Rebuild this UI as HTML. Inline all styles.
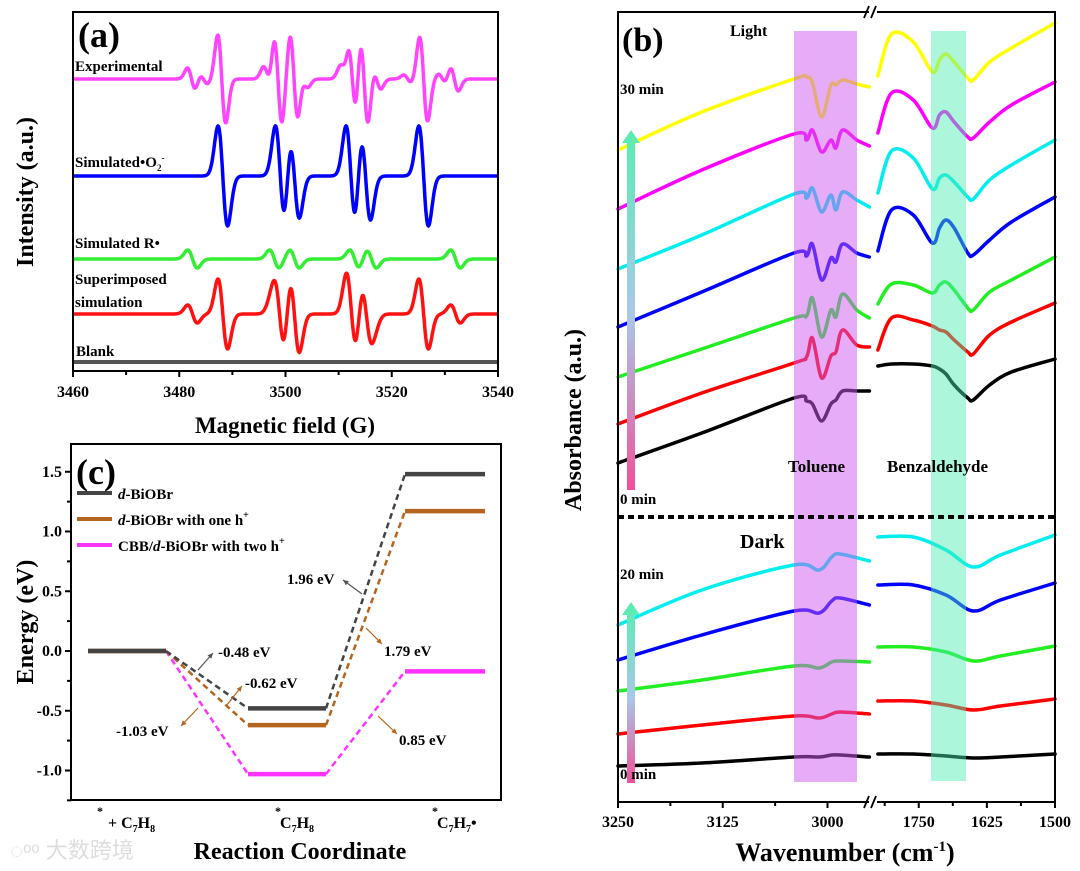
<!DOCTYPE html>
<html><head><meta charset="utf-8"><style>
html,body{margin:0;padding:0;background:#fff}
svg{display:block;font-family:"Liberation Serif",serif;font-weight:bold}
</style></head><body>
<svg id="fig" width="1080" height="871" viewBox="0 0 1080 871" xmlns="http://www.w3.org/2000/svg">
<g id="pa"></g>
<g id="pc"></g>
<g id="pb"></g>
<text x="10" y="858" font-family="'Liberation Sans','Noto Sans CJK SC',sans-serif" font-size="22" fill="#ddd" font-weight="normal">◌ᵒᵒ 大数跨境</text>
</svg>
<script>
// ===== Panel (a) data =====
const aTicks=[3460,3480,3500,3520,3540];
const o2Centers=[3488.2,3499.0,3501.7,3512.3,3515.1,3526.0];
const o2Amps=[50,50,42,50,44,50];
const rCenters=[3482.5,3497.9,3501.7,3513.0,3516.2,3532.0];
const rAmps=[9,9,9,9,9,9];
const expCenters=[3482.3,3484.6,3488.0,3496.6,3498.6,3501.6,3503.5,3511.0,3512.6,3514.8,3517.2,3523.0,3526.0,3529.5,3531.8];
const expAmps=[11,5,44,12,45,44,8,12,40,46,10,4,42,5,12];
const superO2Weight=0.7, superRWeight=1.0;
// ===== Panel (c) data =====
const cTicks=[-1.0,-0.5,0.0,0.5,1.0,1.5];
const seriesNames=["d-BiOBr","d-BiOBr with one h+","CBB/d-BiOBr with two h+"];
const levelsBlack=[0,-0.48,1.48];
const levelsBrown=[0,-0.62,1.17];
const levelsPink=[0,-1.03,-0.17];
// ===== Panel (b) data =====
const bTicksL=[3250,3125,3000];
const bTicksR=[1750,1625,1500];
const wL=[3250,3150,3040,3025,3018,3007,2996,2990,2982,2965,2950];
const wR=[1825,1800,1760,1725,1712,1700,1685,1660,1650,1620,1580,1500];
const lightLeft=[
 [463,433,398,401,404,421,404,400,391,391,391],
 [424,393,363,357,338,378,356,352,330,345,347],
 [377,349,318,316,298,337,310,317,294,310,318],
 [327,292,253,256,244,280,258,262,244,253,257],
 [269,235,194,198,188,212,195,210,192,200,207],
 [209,170,134,140,130,152,140,148,130,140,146],
 [150,112,79,77,83,117,85,85,80,84,87]].map(r=>r.map(v=>(800-v)/100));
const lightRight=[
 [366,364,364,366,369,374,385,398,400,385,372,359],
 [350,318,320,326,330,332,340,352,354,335,322,303],
 [304,284,285,293,285,282,290,308,310,292,280,257],
 [251,210,215,243,228,220,228,253,255,240,222,197],
 [193,151,158,189,178,175,182,197,199,180,165,140],
 [133,93,100,128,115,112,122,137,138,122,105,82],
 [76,34,42,72,60,54,62,78,80,62,48,23]].map(r=>r.map(v=>(800-v)/100));
const wL2=[3250,3150,3040,3010,2995,2985,2950];
const wR2=[1825,1760,1700,1650,1600,1500];
const darkLeft=[
 [766,763,757,757,755,755,757],
 [734,725,716,718,714,712,714],
 [691,680,666,668,662,661,662],
 [660,635,611,613,601,598,605],
 [625,590,565,570,557,554,561]].map(r=>r.map(v=>(800-v)/100));
const darkRight=[
 [754,754,756,758,757,754],
 [701,701,705,710,706,699],
 [647,647,652,661,656,646],
 [585,585,595,611,600,583],
 [537,537,550,567,555,535]].map(r=>r.map(v=>(800-v)/100));
const lightColors=["#000","#f00","#2e2","#00f","#0ee","#f0f","#ff0"];
const darkColors=["#000","#f00","#2e2","#00f","#0ee"];

const NS="http://www.w3.org/2000/svg";
function mk(parent,tag,attrs,text){const e=document.createElementNS(NS,tag);for(const k in attrs)e.setAttribute(k,attrs[k]);if(text!==undefined)e.textContent=text;parent.appendChild(e);return e;}
function smooth(pts){let d="M"+pts[0][0].toFixed(1)+","+pts[0][1].toFixed(1);for(let i=0;i<pts.length-1;i++){const p0=pts[Math.max(0,i-1)],p1=pts[i],p2=pts[i+1],p3=pts[Math.min(pts.length-1,i+2)];const c1=[p1[0]+(p2[0]-p0[0])/6,p1[1]+(p2[1]-p0[1])/6],c2=[p2[0]-(p3[0]-p1[0])/6,p2[1]-(p3[1]-p1[1])/6];d+="C"+c1[0].toFixed(1)+","+c1[1].toFixed(1)+" "+c2[0].toFixed(1)+","+c2[1].toFixed(1)+" "+p2[0].toFixed(1)+","+p2[1].toFixed(1);}return d;}

// ===== Panel A =====
(function(){
const g=document.getElementById('pa');
const X0=73,X1=498,Y0=12,Y1=371;
const xa=v=>X0+(v-3460)/(80)*(X1-X0);
const deriv=(x,c,a,w)=>{const u=(x-c)/w;return a*-u*Math.exp(0.5-0.5*u*u);};
const sumAt=(x,cs,as,w,s)=>{let t=0;for(let i=0;i<cs.length;i++)t+=deriv(x,cs[i],as[i]*s,w);return t;};
function curve(fn,base,color,name){
 let d="";for(let x=3460;x<=3540;x+=0.1){const y=base-fn(x);d+=(d?"L":"M")+xa(x).toFixed(1)+","+y.toFixed(1);}
 const p=mk(g,'path',{d:d,fill:'none',stroke:color,'stroke-width':3.5,'stroke-linejoin':'round'});
 
 
}
curve(x=>sumAt(x,expCenters,expAmps,0.75,1),79,'#f4f','experimental-spectrum');
curve(x=>sumAt(x,o2Centers,o2Amps,0.9,1),176,'#00f','simulated-o2-spectrum');
curve(x=>sumAt(x,rCenters,rAmps,0.9,1),259,'#3e3','simulated-r-spectrum');
curve(x=>sumAt(x,o2Centers,o2Amps,0.9,superO2Weight)+sumAt(x,rCenters,rAmps,0.9,superRWeight),314,'#f11','superimposed-spectrum');
const bl=mk(g,'line',{x1:X0,x2:X1,y1:362,y2:362,stroke:'#555','stroke-width':4});


const fr=mk(g,'rect',{x:X0,y:Y0,width:X1-X0,height:Y1-Y0,fill:'none',stroke:'#000','stroke-width':2});


for(let v=3460;v<=3540;v+=10){const maj=(v%20===0);mk(g,'line',{x1:xa(v),x2:xa(v),y1:Y1,y2:Y1+(maj?6:4),stroke:'#000','stroke-width':2});}
aTicks.forEach(v=>{const t=mk(g,'text',{x:xa(v),y:397,'font-size':16,'text-anchor':'middle'},String(v));
 
 });
const lbls=[["(a)",78,47,36],["Experimental",75,71,15],["Simulated R•",75,248,15],["Superimposed",75,284,15],["simulation",75,307,15],["Blank",76,356,15]];
lbls.forEach(l=>{const t=mk(g,'text',{x:l[1],y:l[2],'font-size':l[3]},l[0]);
 
 });
const s=mk(g,'text',{x:75,y:167,'font-size':15},'Simulated•O');


mk(s,'tspan',{'font-size':9,dy:4},'2');mk(s,'tspan',{'font-size':9,dy:-10},'-');
const xt=mk(g,'text',{x:285,y:433,'font-size':23,'text-anchor':'middle'},'Magnetic field (G)');


const yt=mk(g,'text',{x:0,y:0,'font-size':24,'text-anchor':'middle',transform:'translate(33,192) rotate(-90)'},'Intensity (a.u.)');


})();

// ===== Panel C =====
(function(){
const g=document.getElementById('pc');
const X0=71,X1=501,Y0=444,Y1=800;
const yc=v=>651-119.5*v;
const slots=[[88,166],[248,326],[405,485]];
const fr=mk(g,'rect',{x:X0,y:Y0,width:X1-X0,height:Y1-Y0,fill:'none',stroke:'#000','stroke-width':2});


for(let v=-1.25;v<=1.7;v+=0.25){const maj=Math.abs(v*2-Math.round(v*2))<1e-6;mk(g,'line',{x1:X0-(maj?6:4),x2:X0,y1:yc(v),y2:yc(v),stroke:'#000','stroke-width':2});}
cTicks.forEach(v=>{const t=mk(g,'text',{x:X0-9,y:yc(v)+5,'font-size':16,'text-anchor':'end'},v.toFixed(1));
 
 });
const sets=[[levelsPink,'#f3f'],[levelsBrown,'#b5651d'],[levelsBlack,'#444']];
sets.forEach(([lv,col],si)=>{
 for(let i=0;i<2;i++){const dl=mk(g,'line',{x1:slots[i][1],y1:yc(lv[i]),x2:slots[i+1][0],y2:yc(lv[i+1]),stroke:col,'stroke-width':2.5,'stroke-dasharray':'6,4'});
  
  }
 lv.forEach((v,i)=>{if(si===0&&i===0)return;const l=mk(g,'line',{x1:slots[i][0],x2:slots[i][1],y1:yc(v),y2:yc(v),stroke:col,'stroke-width':4.5});
  
  });
});
const legCols=['#444','#b5651d','#f3f'];
seriesNames.forEach((n,i)=>{const y=493+i*26;
 const l=mk(g,'line',{x1:77,x2:112,y1:y,y2:y,stroke:legCols[i],'stroke-width':4});
 
 
 const t=mk(g,'text',{x:118,y:y+6,'font-size':15});
 
 
 const parts=n.split('d-');
 if(parts[0])mk(t,'tspan',{},parts[0]);
 mk(t,'tspan',{'font-style':'italic'},'d');
 let rest='-'+parts[1];
 if(rest.endsWith('h+')){mk(t,'tspan',{},rest.slice(0,-1));mk(t,'tspan',{'font-size':10,dy:-7},'+');}else mk(t,'tspan',{},rest);
});
const pl=mk(g,'text',{x:76,y:484,'font-size':36},'(c)');


const ann=[["1.96 eV",287,584,'#555',362,594,343,580],["-0.48 eV",218,657,'#555',198,670,213,653],["-0.62 eV",245,688,'#b5651d',226,706,242,686],["-1.03 eV",116,736,'#b5651d',198,708,181,726],["1.79 eV",384,656,'#b5651d',366,628,382,644],["0.85 eV",399,745,'#b5651d',378,716,397,734]];
ann.forEach(a=>{const t=mk(g,'text',{x:a[1],y:a[2],'font-size':15},a[0]);
 
 
 mk(g,'line',{x1:a[4],y1:a[5],x2:a[6],y2:a[7],stroke:a[3],'stroke-width':1.2});
 const ang=Math.atan2(a[7]-a[5],a[6]-a[4]);const L=6;
 mk(g,'polygon',{points:`${a[6]},${a[7]} ${a[6]-L*Math.cos(ang-0.45)},${a[7]-L*Math.sin(ang-0.45)} ${a[6]-L*Math.cos(ang+0.45)},${a[7]-L*Math.sin(ang+0.45)}`,fill:a[3]});
});
const xl=[["+ C",108,"8",97],["C",280,"8",275],["C",437,"7•",432]];
xl.forEach(l=>{mk(g,'text',{x:l[3],y:815,'font-size':12},'*');
 const t=mk(g,'text',{x:l[1],y:828,'font-size':16});
 
 
 mk(t,'tspan',{},l[0]);mk(t,'tspan',{'font-size':10,dy:4},'7');mk(t,'tspan',{dy:-4},'H');
 if(l[2]==='8')mk(t,'tspan',{'font-size':10,dy:4},'8');else{mk(t,'tspan',{'font-size':10,dy:4},'7');mk(t,'tspan',{dy:-4},'•');}
});
const xt=mk(g,'text',{x:300,y:859,'font-size':24,'text-anchor':'middle'},'Reaction Coordinate');


const yt=mk(g,'text',{x:0,y:0,'font-size':24,'text-anchor':'middle',transform:'translate(33,622) rotate(-90)'},'Energy (eV)');


})();

// ===== Panel B =====
(function(){
const g=document.getElementById('pb');
const X0=618,X1=1055,Y0=12,Y1=802;
const xl=w=>618+(3250-w)*0.838;
const xr=w=>1055-(w-1500)*0.545;
const ya=a=>800-a*100;
const defs=mk(g,'defs',{});
const lg=mk(defs,'linearGradient',{id:'arrg',x1:0,y1:1,x2:0,y2:0});
mk(lg,'stop',{offset:'0','stop-color':'#f0509a'});mk(lg,'stop',{offset:'0.5','stop-color':'#a8c8e8'});mk(lg,'stop',{offset:'1','stop-color':'#5eebb4'});
function draw(ws,vals,fx,col,name){const pts=ws.map((w,i)=>[fx(w),ya(vals[i])]);
 const p=mk(g,'path',{d:smooth(pts),fill:'none',stroke:col,'stroke-width':3.5,'stroke-linecap':'round'});
 
 }
lightLeft.forEach((r,i)=>draw(wL,r,xl,lightColors[i],'light-spectrum-toluene-'+i));
lightRight.forEach((r,i)=>draw(wR,r,xr,lightColors[i],'light-spectrum-benzaldehyde-'+i));
darkLeft.forEach((r,i)=>draw(wL2,r,xl,darkColors[i],'dark-spectrum-toluene-'+i));
darkRight.forEach((r,i)=>draw(wR2,r,xr,darkColors[i],'dark-spectrum-benzaldehyde-'+i));
const b1=mk(g,'rect',{x:794,y:31,width:63,height:751,fill:'rgba(205,90,240,0.5)'});


const b2=mk(g,'rect',{x:931,y:31,width:35,height:750,fill:'rgba(70,235,175,0.45)'});


mk(g,'rect',{x:627,y:140,width:8,height:350,fill:'url(#arrg)'});
mk(g,'polygon',{points:'622,143 631,130 640,143',fill:'#5eebb4'});
mk(g,'rect',{x:627,y:612,width:8,height:171,fill:'url(#arrg)'});
mk(g,'polygon',{points:'622,615 631,602 640,615',fill:'#5eebb4'});
const dl=mk(g,'line',{x1:X0,x2:X1,y1:517,y2:517,stroke:'#000','stroke-width':4,'stroke-dasharray':'6,4'});


mk(g,'path',{d:`M869,${Y0}H${X0}V${Y1}H869 M877,${Y0}H${X1}V${Y1}H877`,fill:'none',stroke:'#000','stroke-width':2});
[Y0,Y1].forEach(y=>{mk(g,'line',{x1:864,y1:y+6,x2:869,y2:y-6,stroke:'#000','stroke-width':1.8});mk(g,'line',{x1:871,y1:y+6,x2:876,y2:y-6,stroke:'#000','stroke-width':1.8});});
for(let w=3250;w>=2950;w-=62.5){const maj=(w%125===0);mk(g,'line',{x1:xl(w),x2:xl(w),y1:Y1,y2:Y1+(maj?6:4),stroke:'#000','stroke-width':2});}
for(let w=1812.5;w>=1500;w-=62.5){const maj=(w%125===0);mk(g,'line',{x1:xr(w),x2:xr(w),y1:Y1,y2:Y1+(maj?6:4),stroke:'#000','stroke-width':2});}
bTicksL.forEach(w=>{const t=mk(g,'text',{x:xl(w),y:827,'font-size':16,'text-anchor':'middle'},String(w));
 
 });
bTicksR.forEach(w=>{const t=mk(g,'text',{x:xr(w),y:827,'font-size':16,'text-anchor':'middle'},String(w));
 
 });
const txt=[["(b)",622,51,34],["Light",730,36,16],["30 min",620,94,15],["0 min",620,504,15],["Toluene",788,472,17],["Benzaldehyde",887,472,17],["Dark",740,548,20],["20 min",620,579,15],["0 min",620,779,15]];
txt.forEach(l=>{const t=mk(g,'text',{x:l[1],y:l[2],'font-size':l[3]},l[0]);
 
 });
const xt=mk(g,'text',{x:845,y:861,'font-size':26,'text-anchor':'middle'},'Wavenumber (cm');


mk(xt,'tspan',{'font-size':15,dy:-10},'-1');mk(xt,'tspan',{dy:10},')');
const yt=mk(g,'text',{x:0,y:0,'font-size':24,'text-anchor':'middle',transform:'translate(581,420) rotate(-90)'},'Absorbance (a.u.)');


})();
</script>
</body></html>
